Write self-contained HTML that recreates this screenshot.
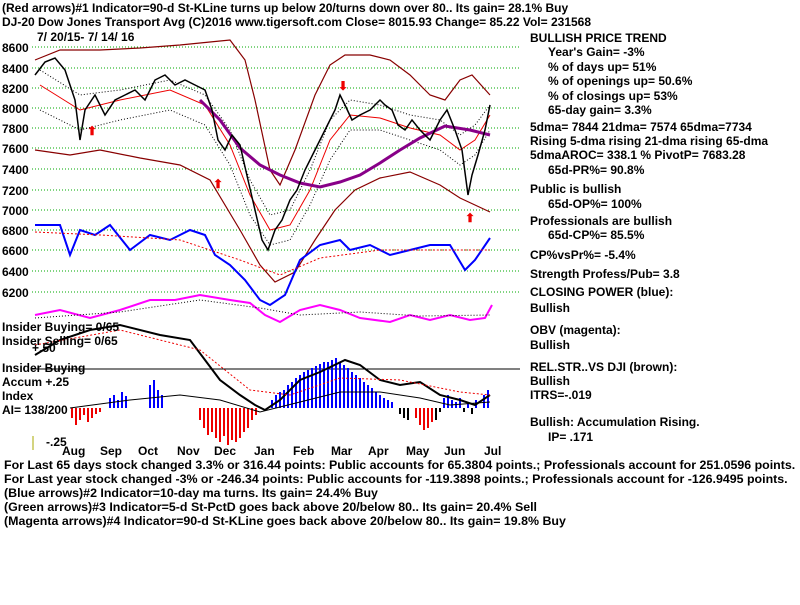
<!DOCTYPE html>
<html><head><meta charset="utf-8"><style>
body{margin:0;background:#fff;}
svg text{font-family:"Liberation Sans",sans-serif;font-size:12px;font-weight:bold;fill:#000;}
svg text.b{font-size:12.4px;}
</style></head><body>
<svg width="800" height="600" xmlns="http://www.w3.org/2000/svg">
<rect width="800" height="600" fill="#fff"/>
<text x="2" y="12">(Red arrows)#1 Indicator=90-d St-KLine turns up below 20/turns down over 80.. Its gain= 28.1% Buy</text>
<text x="2" y="26">DJ-20  Dow Jones Transport Avg  (C)2016 www.tigersoft.com    Close=  8015.93  Change= 85.22  Vol=  231568</text>
<text x="37" y="41">7/ 20/15- 7/ 14/ 16</text>
<g stroke="#0a0" stroke-dasharray="1,2" stroke-width="1">
<line x1="32" x2="520" y1="47" y2="47"/><line x1="32" x2="520" y1="68" y2="68"/><line x1="32" x2="520" y1="88" y2="88"/><line x1="32" x2="520" y1="108" y2="108"/><line x1="32" x2="520" y1="128" y2="128"/><line x1="32" x2="520" y1="148" y2="148"/><line x1="32" x2="520" y1="169" y2="169"/><line x1="32" x2="520" y1="190" y2="190"/><line x1="32" x2="520" y1="210" y2="210"/><line x1="32" x2="520" y1="230" y2="230"/><line x1="32" x2="520" y1="250" y2="250"/><line x1="32" x2="520" y1="271" y2="271"/><line x1="32" x2="520" y1="292" y2="292"/>
</g>
<g>
<text x="2" y="52">8600</text><text x="2" y="73">8400</text><text x="2" y="93">8200</text><text x="2" y="113">8000</text><text x="2" y="133">7800</text><text x="2" y="153">7600</text><text x="2" y="174">7400</text><text x="2" y="195">7200</text><text x="2" y="215">7000</text><text x="2" y="235">6800</text><text x="2" y="255">6600</text><text x="2" y="276">6400</text><text x="2" y="297">6200</text>
</g>
<polyline fill="none" stroke="#800" stroke-width="1.2" points="35,60 60,50 100,50 140,48 180,45 210,42 230,40 245,60 255,100 270,170 280,185 295,150 315,95 330,65 345,55 370,55 390,60 410,75 430,95 445,100 460,80 472,75 490,95"/>
<polyline fill="none" stroke="#800" stroke-width="1.2" points="35,150 70,155 100,150 140,158 180,165 210,180 240,230 260,265 275,282 295,272 315,240 335,210 355,190 380,178 410,172 440,185 460,198 475,205 490,212"/>
<polyline fill="none" stroke="#e00" stroke-width="1" points="40,85 80,110 120,100 170,90 205,105 230,145 250,195 270,230 290,225 310,190 330,140 350,115 380,118 410,128 440,135 460,150 475,140 490,115"/>
<polyline fill="none" stroke="#000" stroke-width="1" stroke-dasharray="1,2" points="40,70 80,95 120,90 170,80 205,95 230,130 250,180 270,215 290,210 310,170 330,120 350,100 380,105 410,115 440,120 460,135 475,125 490,105"/>
<polyline fill="none" stroke="#000" stroke-width="1" stroke-dasharray="1,2" points="40,110 80,130 120,120 170,110 205,125 230,165 250,215 270,245 290,240 310,205 330,160 350,130 380,130 410,140 440,150 460,165 475,155 490,130"/>
<polyline fill="none" stroke="#808" stroke-width="3" points="200,100 220,120 240,148 260,165 280,175 300,183 320,187 340,182 360,175 380,163 400,150 420,138 445,126 470,130 490,135"/>
<polyline fill="none" stroke="#000" stroke-width="1.5" points="35,75 45,62 55,58 65,70 75,100 80,140 85,110 95,95 105,115 115,100 125,95 135,90 145,100 155,80 165,75 175,85 185,80 195,85 205,90 212,110 218,140 225,150 232,135 240,145 248,180 255,210 262,240 268,250 275,230 282,220 290,200 297,190 305,170 315,150 325,130 335,110 340,95 345,105 352,120 360,115 370,110 380,100 385,105 392,110 398,125 405,130 412,120 420,130 430,140 440,120 447,110 455,130 462,150 468,195 472,175 478,155 485,130 490,105"/>
<text x="338" y="90" style="fill:#e00">⬇</text>
<text x="213" y="188" style="fill:#e00">⬆</text><text x="87" y="135" style="fill:#e00">⬆</text><text x="465" y="222" style="fill:#e00">⬆</text>
<polyline fill="none" stroke="#00f" stroke-width="2" points="35,225 60,225 70,255 80,230 95,235 110,225 130,250 150,235 170,240 190,230 205,235 215,255 230,265 245,280 260,300 270,305 285,295 300,260 320,245 340,240 350,250 370,245 390,255 410,250 430,245 450,245 465,270 475,260 490,238"/>
<polyline fill="none" stroke="#e00" stroke-width="1" stroke-dasharray="2,2" points="35,232 100,235 180,240 240,260 280,275 320,258 380,250 440,250 490,250"/>
<polyline fill="none" stroke="#f0f" stroke-width="2" points="35,315 60,310 90,318 120,310 150,300 175,300 200,295 230,300 250,303 265,315 280,322 300,310 320,305 340,310 360,318 390,322 410,315 430,320 450,315 470,320 485,318 492,305"/>
<polyline fill="none" stroke="#000" stroke-width="1" stroke-dasharray="1,2" points="35,318 120,312 200,300 260,308 300,315 360,312 420,316 490,315"/>
<line x1="32" x2="520" y1="369" y2="369" stroke="#000"/>
<g stroke-width="2">
<path stroke="#e00" d="M72 408V418M76 408V425M80 408V420M84 408V415M88 408V422M92 408V418M96 408V414M100 408V412M200 408V420M204 408V428M208 408V435M212 408V432M216 408V438M220 408V442M224 408V436M228 408V445M232 408V440M236 408V442M240 408V438M244 408V432M248 408V428M252 408V420M256 408V415M416 408V418M420 408V425M424 408V430M428 408V428M432 408V422"/>
<path stroke="#00f" d="M110 408V398M114 408V395M118 408V400M122 408V392M126 408V396M150 408V385M154 408V380M158 408V390M162 408V395M272 408V400M276 408V395M280 408V392M284 408V390M288 408V385M292 408V382M296 408V378M300 408V375M304 408V372M308 408V370M312 408V368M316 408V366M320 408V364M324 408V362M328 408V362M332 408V360M336 408V358M340 408V362M344 408V365M348 408V368M352 408V372M356 408V375M360 408V378M364 408V382M368 408V385M372 408V388M376 408V392M380 408V395M384 408V398M388 408V400M392 408V402M444 408V398M448 408V395M452 408V400M456 408V402M460 408V398M468 408V402M476 408V400M484 408V395M488 408V390"/>
<path stroke="#000" d="M400 408V414M404 408V418M408 408V420M436 408V420M440 408V412M464 408V412M472 408V414"/>
</g>
<polyline fill="none" stroke="#000" stroke-width="1" points="70,408 130,400 180,395 220,400 260,412 300,402 340,392 380,392 420,398 450,405 490,402"/>
<polyline fill="none" stroke="#000" stroke-width="2" points="35,355 60,340 90,330 120,325 160,335 190,340 205,360 220,380 240,395 255,405 265,410 280,400 300,380 320,372 345,360 360,365 380,380 400,385 420,382 440,395 460,400 475,405 490,395"/>
<polyline fill="none" stroke="#e00" stroke-width="1" stroke-dasharray="2,2" points="35,345 120,330 200,350 250,390 290,395 340,378 400,380 460,392 490,395"/>
<text x="2" y="331">Insider Buying= 0/65</text>
<text x="2" y="345">Insider Selling= 0/65</text>
<text x="32" y="352">+.50</text>
<text x="2" y="372">Insider Buying</text>
<text x="2" y="386">Accum  +.25</text>
<text x="2" y="400">Index</text>
<text x="2" y="414">AI= 138/200</text>
<text x="46" y="446">-.25</text>
<line x1="33" x2="33" y1="436" y2="450" stroke="#aa0"/>
<g>
<text x="62" y="455">Aug</text><text x="100" y="455">Sep</text><text x="138" y="455">Oct</text><text x="177" y="455">Nov</text><text x="214" y="455">Dec</text><text x="254" y="455">Jan</text><text x="293" y="455">Feb</text><text x="331" y="455">Mar</text><text x="368" y="455">Apr</text><text x="406" y="455">May</text><text x="444" y="455">Jun</text><text x="484" y="455">Jul</text>
</g>
<text class="b" x="4" y="469">For Last 65 days stock changed  3.3% or  316.44 points:  Public accounts for  65.3804 points.;  Professionals account for  251.0596 points.</text>
<text class="b" x="4" y="483">For Last year stock changed -3% or -246.34 points:  Public accounts for -119.3898 points.;  Professionals account for -126.9495 points.</text>
<text class="b" x="4" y="497">(Blue arrows)#2 Indicator=10-day ma turns. Its gain= 24.4% Buy</text>
<text class="b" x="4" y="511">(Green arrows)#3 Indicator=5-d St-PctD goes back above 20/below 80.. Its gain= 20.4% Sell</text>
<text class="b" x="4" y="525">(Magenta arrows)#4 Indicator=90-d St-KLine goes back above 20/below 80.. Its gain= 19.8% Buy</text>
<g>
<text x="530" y="42">BULLISH PRICE TREND</text>
<text x="548" y="56">Year's Gain= -3%</text>
<text x="548" y="71">% of days up= 51%</text>
<text x="548" y="85">% of openings up= 50.6%</text>
<text x="548" y="100">% of closings up= 53%</text>
<text x="548" y="114">65-day gain= 3.3%</text>
<text x="530" y="131">5dma= 7844 21dma= 7574 65dma=7734</text>
<text x="530" y="145">Rising 5-dma rising 21-dma rising 65-dma</text>
<text x="530" y="159">5dmaAROC= 338.1  %  PivotP= 7683.28</text>
<text x="548" y="174">65d-PR%= 90.8%</text>
<text x="530" y="193">Public is bullish</text>
<text x="548" y="208">65d-OP%= 100%</text>
<text x="530" y="225">Professionals are bullish</text>
<text x="548" y="239">65d-CP%= 85.5%</text>
<text x="530" y="259">CP%vsPr%= -5.4%</text>
<text x="530" y="278">Strength Profess/Pub= 3.8</text>
<text x="530" y="296">CLOSING POWER (blue):</text>
<text x="530" y="312">Bullish</text>
<text x="530" y="334">OBV (magenta):</text>
<text x="530" y="349">Bullish</text>
<text x="530" y="371">REL.STR..VS DJI (brown):</text>
<text x="530" y="385">Bullish</text>
<text x="530" y="399">ITRS=-.019</text>
<text x="530" y="426">Bullish: Accumulation Rising.</text>
<text x="548" y="441">IP=  .171</text>
</g>
</svg>
</body></html>
